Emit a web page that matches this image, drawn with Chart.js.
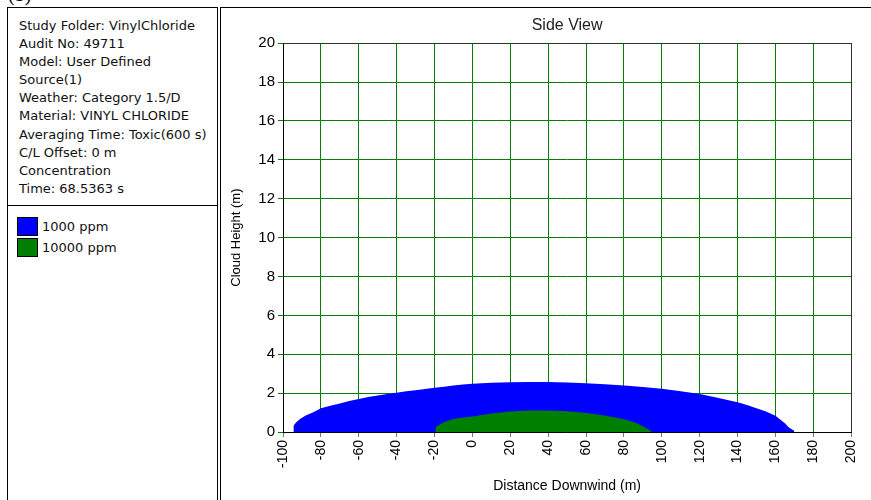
<!DOCTYPE html>
<html>
<head>
<meta charset="utf-8">
<script src="https://cdn.jsdelivr.net/npm/chart.js@4.4.0/dist/chart.umd.min.js"></script>
<style>
  html, body { margin: 0; padding: 0; background: #fff; width: 871px; height: 500px; overflow: hidden; position: relative; }
  #tag { position: absolute; left: 8px; top: -16px; font: 20px "Liberation Serif", serif; line-height: 20px; color: #000; }
  #info { position: absolute; left: 7px; top: 7px; width: 211px; height: 520px; border: 1px solid #000; box-sizing: border-box; }
  #notes { position: absolute; left: 11px; top: 9px; font: 13px "DejaVu Sans", sans-serif; line-height: 18.1px; color: #111; white-space: nowrap; }
  #divider { position: absolute; left: 0; top: 197px; width: 100%; height: 0; border-top: 1px solid #000; }
  #legend { position: absolute; left: 9px; top: 208px; font: 13px "DejaVu Sans", sans-serif; color: #111; }
  .item { height: 21px; display: flex; align-items: center; }
  .sw { width: 19px; height: 17px; border: 1px solid #000; margin-right: 4px; }
  #pane { position: absolute; left: 220px; top: 7px; width: 651px; height: 493px; border-left: 1px solid #000; border-top: 1px solid #000; box-sizing: border-box; }
  #chart { position: absolute; left: 0; top: 0; }
</style>
</head>
<body>
<div id="tag">(b)</div>
<div id="info">
  <div id="notes"></div>
  <div id="divider"></div>
  <div id="legend"></div>
</div>
<div id="pane"><canvas id="chart" width="650" height="492"></canvas></div>
<script>
const infoLines = [
  'Study Folder: VinylChloride',
  'Audit No: 49711',
  'Model: User Defined',
  'Source(1)',
  'Weather: Category 1.5/D',
  'Material: VINYL CHLORIDE',
  'Averaging Time: Toxic(600 s)',
  'C/L Offset: 0 m',
  'Concentration',
  'Time: 68.5363 s'
];

const seriesNames = ['1000 ppm', '10000 ppm'];
const seriesColors = ['#0000ff', '#008000'];

// cloud outline, 1000 ppm (distance m, height m)
const lowX = [-94.5, -94.5, -93, -91, -88, -84, -80, -75, -70, -65, -60, -55, -50, -45, -40, -35, -30, -25, -20, -15, -10, -5, 0,
  10, 20, 30, 40, 50, 60, 70, 80, 90, 100, 110, 120, 130, 140, 145, 150, 155, 160, 163, 165, 167, 169, 170, 170];
const lowY = [0, 0.32, 0.5, 0.67, 0.85, 1.01, 1.22, 1.35, 1.47, 1.59, 1.7, 1.8, 1.88, 1.96, 2.02, 2.09, 2.15, 2.21, 2.27, 2.33, 2.39, 2.44, 2.48,
  2.53, 2.56, 2.57, 2.57, 2.55, 2.51, 2.45, 2.39, 2.31, 2.22, 2.09, 1.96, 1.75, 1.53, 1.39, 1.22, 1.05, 0.84, 0.6, 0.45, 0.25, 0.12, 0.06, 0];

// cloud outline, 10000 ppm
const highX = [-19.5, -19.5, -17, -15, -12, -10, -5, 0, 10, 20, 30, 40, 50, 60, 70, 80, 85, 88, 90, 92, 93.5, 94.4, 94.4];
const highY = [0, 0.24, 0.4, 0.5, 0.6, 0.67, 0.75, 0.8, 0.95, 1.05, 1.1, 1.1, 1.07, 0.98, 0.85, 0.66, 0.52, 0.4, 0.3, 0.18, 0.1, 0.04, 0];

const xMin = -100, xMax = 200, xStep = 20;
const yMin = 0, yMax = 20, yStep = 2;

function toPoints(xs, ys) {
  return xs.map((x, i) => ({ x: x, y: ys[i] }));
}

document.getElementById('notes').innerHTML = infoLines.join('<br>');
document.getElementById('legend').innerHTML = seriesNames.map((name, i) =>
  '<div class="item"><div class="sw" style="background:' + seriesColors[i] + '"></div>' + name + '</div>').join('');

const frame = {
  id: 'frame',
  afterDatasetsDraw(chart) {
    const a = chart.chartArea, ctx = chart.ctx;
    ctx.save();
    ctx.strokeStyle = '#333';
    ctx.lineWidth = 1;
    ctx.beginPath();
    ctx.moveTo(Math.round(a.left) + 0.5, Math.round(a.top) + 0.5);
    ctx.lineTo(Math.round(a.right) + 0.5, Math.round(a.top) + 0.5);
    ctx.lineTo(Math.round(a.right) + 0.5, Math.round(a.bottom) + 0.5);
    ctx.stroke();
    ctx.restore();
  }
};

new Chart(document.getElementById('chart'), {
  type: 'scatter',
  data: {
    datasets: [
      { label: seriesNames[1], data: toPoints(highX, highY), showLine: true, fill: 'origin',
        backgroundColor: seriesColors[1], borderWidth: 0, pointRadius: 0, order: 0 },
      { label: seriesNames[0], data: toPoints(lowX, lowY), showLine: true, fill: 'origin',
        backgroundColor: seriesColors[0], borderWidth: 0, pointRadius: 0, order: 1 }
    ]
  },
  options: {
    responsive: false,
    animation: false,
    layout: { padding: { left: 0, right: 19, top: 0, bottom: 0 } },
    plugins: {
      legend: { display: false },
      tooltip: { enabled: false },
      title: {
        display: true, text: 'Side View', fullSize: false, color: '#222',
        font: { family: 'Liberation Sans', size: 16, weight: 'normal' },
        padding: { top: 8, bottom: 8 }
      }
    },
    scales: {
      x: {
        type: 'linear', min: xMin, max: xMax,
        ticks: { stepSize: xStep, minRotation: 90, maxRotation: 90, color: '#000',
          font: { family: 'Liberation Sans', size: 14 }, padding: 3 },
        grid: { color: '#008000', tickLength: 5, tickColor: '#777' },
        border: { color: '#000' },
        title: { display: true, text: 'Distance Downwind (m)', color: '#000',
          font: { family: 'Liberation Sans', size: 14 }, padding: { top: 0, bottom: 5 } },
        afterFit(s) { s.height = 68; }
      },
      y: {
        min: yMin, max: yMax,
        ticks: { stepSize: yStep, color: '#000', font: { family: 'Liberation Sans', size: 15 }, padding: 3 },
        grid: { color: '#008000', tickLength: 5, tickColor: '#008000' },
        border: { color: '#000' },
        title: { display: true, text: 'Cloud Height (m)', color: '#000',
          font: { family: 'Liberation Sans', size: 13 }, padding: { top: 8, bottom: 0 } },
        afterFit(s) { s.width = 62; }
      }
    }
  },
  plugins: [frame]
});
</script>
</body>
</html>
